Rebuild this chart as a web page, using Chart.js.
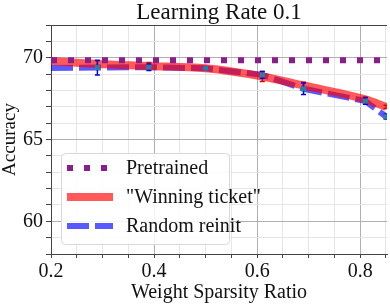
<!DOCTYPE html>
<html>
<head>
<meta charset="utf-8">
<script src="https://cdn.jsdelivr.net/npm/chart.js@4/dist/chart.umd.min.js"></script>
<style>
  html, body { margin: 0; padding: 0; background: #fff; }
  #wrap { width: 390px; height: 304px; position: relative; }
</style>
</head>
<body>
<div id="wrap"><canvas id="chart" width="390" height="304"></canvas></div>
<script>
const sparsity = [0.2, 0.29, 0.39, 0.5, 0.61, 0.69, 0.81, 0.85];
const pretrained = [69.85, 69.85, 69.85, 69.85, 69.85, 69.85, 69.85, 69.85];
const winningTicket = [69.8, 69.62, 69.5, 69.35, 68.85, 68.3, 67.45, 67.0];
const winningErr = [0, 0.2, 0.2, 0.1, 0.3, 0.2, 0.15, 0.1];
const randomReinit = [69.37, 69.4, 69.42, 69.35, 68.95, 68.1, 67.35, 66.4];
const randomErr = [0, 0.45, 0.2, 0.1, 0.2, 0.35, 0.2, 0.15];
const yMajor = [60, 65, 70];
const xMajor = [0.2, 0.4, 0.6, 0.8];

const SERIF = "'Liberation Serif', 'Times New Roman', serif";

const toPts = ys => sparsity.map((x, i) => ({ x, y: ys[i] }));
const isMajor = (v, list) => list.some(m => Math.abs(m - v) < 1e-6);

const errorBars = {
  id: 'errorBars',
  afterDatasetsDraw(chart) {
    const { ctx, scales: { x, y }, chartArea } = chart;
    ctx.save();
    ctx.beginPath();
    ctx.rect(chartArea.left, chartArea.top, chartArea.right - chartArea.left, chartArea.bottom - chartArea.top);
    ctx.clip();
    const sets = [
      { vals: winningTicket, err: winningErr, color: 'rgb(230,0,0)' },
      { vals: randomReinit, err: randomErr, color: 'rgb(0,0,230)' },
    ];
    sets.forEach(s => {
      sparsity.forEach((sx, i) => {
        if (!s.err[i]) return;
        const px = x.getPixelForValue(sx);
        const y1 = y.getPixelForValue(s.vals[i] + s.err[i]);
        const y2 = y.getPixelForValue(s.vals[i] - s.err[i]);
        ctx.strokeStyle = s.color;
        ctx.lineWidth = 1.5;
        ctx.beginPath();
        ctx.moveTo(px, y1); ctx.lineTo(px, y2);
        ctx.moveTo(px - 2.5, y1); ctx.lineTo(px + 2.5, y1);
        ctx.moveTo(px - 2.5, y2); ctx.lineTo(px + 2.5, y2);
        ctx.stroke();
      });
    });
    sparsity.forEach((sx, i) => {
      if (!randomErr[i]) return;
      const px = x.getPixelForValue(sx);
      const py = y.getPixelForValue(randomReinit[i]);
      ctx.fillStyle = 'rgba(31,140,170,0.9)';
      ctx.fillRect(px - 2.5, py - 2.5, 5, 5);
    });
    ctx.restore();

    // top spine
    ctx.save();
    ctx.strokeStyle = '#444';
    ctx.lineWidth = 1;
    ctx.beginPath();
    ctx.moveTo(chartArea.left, chartArea.top + 0.5);
    ctx.lineTo(chartArea.right, chartArea.top + 0.5);
    ctx.stroke();
    ctx.restore();
  }
};

const boxLegend = {
  id: 'boxLegend',
  afterDraw(chart) {
    const { ctx } = chart;
    const bx = 61, by = 153, bw = 168, bh = 91;
    ctx.save();
    ctx.fillStyle = 'rgba(255,255,255,0.85)';
    ctx.strokeStyle = '#d8d8d8';
    ctx.lineWidth = 1;
    ctx.beginPath();
    ctx.roundRect(bx + 0.5, by + 0.5, bw, bh, 4);
    ctx.fill();
    ctx.stroke();
    const rows = [168, 197, 226];
    const font = Chart.helpers.toFont({ family: SERIF, size: 20 });
    chart.data.datasets.forEach((ds, i) => {
      const ry = rows[i];
      ctx.strokeStyle = ds.borderColor;
      ctx.lineWidth = ds.borderWidth;
      ctx.setLineDash(ds.borderDash || []);
      ctx.lineCap = 'butt';
      ctx.beginPath();
      ctx.moveTo(67, ry);
      ctx.lineTo(113, ry);
      ctx.stroke();
      ctx.setLineDash([]);
      ctx.font = font.string;
      ctx.textBaseline = 'middle';
      ctx.textAlign = 'left';
      ctx.fillStyle = '#111';
      ctx.fillText(ds.label, 126, ry + 1);
    });
    ctx.restore();
  }
};

new Chart(document.getElementById('chart'), {
  type: 'line',
  data: {
    datasets: [
      {
        label: 'Pretrained',
        data: toPts(pretrained),
        borderColor: 'rgb(140,30,140)',
        borderWidth: 6,
        borderDash: [6, 11],
        pointRadius: 0,
      },
      {
        label: '"Winning ticket"',
        data: toPts(winningTicket),
        borderColor: 'rgba(255,0,0,0.65)',
        borderWidth: 8,
        cubicInterpolationMode: 'monotone',
        pointRadius: 0,
      },
      {
        label: 'Random reinit',
        data: toPts(randomReinit),
        borderColor: 'rgba(0,0,255,0.65)',
        borderWidth: 6,
        borderDash: [22, 6],
        pointRadius: 0,
      },
    ],
  },
  options: {
    responsive: false,
    animation: false,
    layout: { padding: 0 },
    plugins: {
      legend: { display: false },
      tooltip: { enabled: false },
      title: {
        display: true,
        text: 'Learning Rate 0.1',
        fullSize: false,
        color: '#111',
        font: { family: SERIF, size: 23, weight: 'normal', lineHeight: 1 },
        padding: { top: 1, bottom: 1 },
      },
    },
    scales: {
      x: {
        type: 'linear',
        min: 0.2,
        max: 0.852,
        afterBuildTicks: axis => {
          const t = [];
          for (let v = 0.2; v <= 0.851; v += 0.05) t.push({ value: Math.round(v * 100) / 100 });
          axis.ticks = t;
        },
        afterFit: axis => { axis.height = 50; },
        border: { color: '#444', width: 1 },
        grid: {
          color: c => (isMajor(c.tick.value, xMajor) ? '#b0b0b0' : '#e6e6e6'),
          tickColor: '#444',
          tickLength: 4,
        },
        ticks: {
          autoSkip: false,
          maxRotation: 0,
          color: '#111',
          padding: 4,
          font: { family: SERIF, size: 20, lineHeight: 1 },
          callback: v => (isMajor(v, xMajor) ? v.toFixed(1) : ''),
        },
        title: {
          display: true,
          text: 'Weight Sparsity Ratio',
          color: '#111',
          font: { family: SERIF, size: 20, lineHeight: 1 },
          padding: { top: 0, bottom: 1 },
        },
      },
      y: {
        min: 58,
        max: 72,
        afterBuildTicks: axis => {
          const t = [];
          for (let v = 58; v <= 72; v += 1) t.push({ value: v });
          axis.ticks = t;
        },
        afterFit: axis => { axis.width = 51; },
        border: { color: '#444', width: 1 },
        grid: {
          color: c => (isMajor(c.tick.value, yMajor) ? '#b0b0b0' : '#e6e6e6'),
          tickColor: '#444',
          tickLength: 5,
        },
        ticks: {
          autoSkip: false,
          color: '#111',
          padding: 3,
          font: { family: SERIF, size: 20 },
          callback: v => (isMajor(v, yMajor) ? String(v) : ''),
        },
        title: {
          display: true,
          text: 'Accuracy',
          color: '#111',
          font: { family: SERIF, size: 19, lineHeight: 1 },
          padding: { top: 1, bottom: 0 },
        },
      },
    },
  },
  plugins: [errorBars, boxLegend],
});
</script>
</body>
</html>
